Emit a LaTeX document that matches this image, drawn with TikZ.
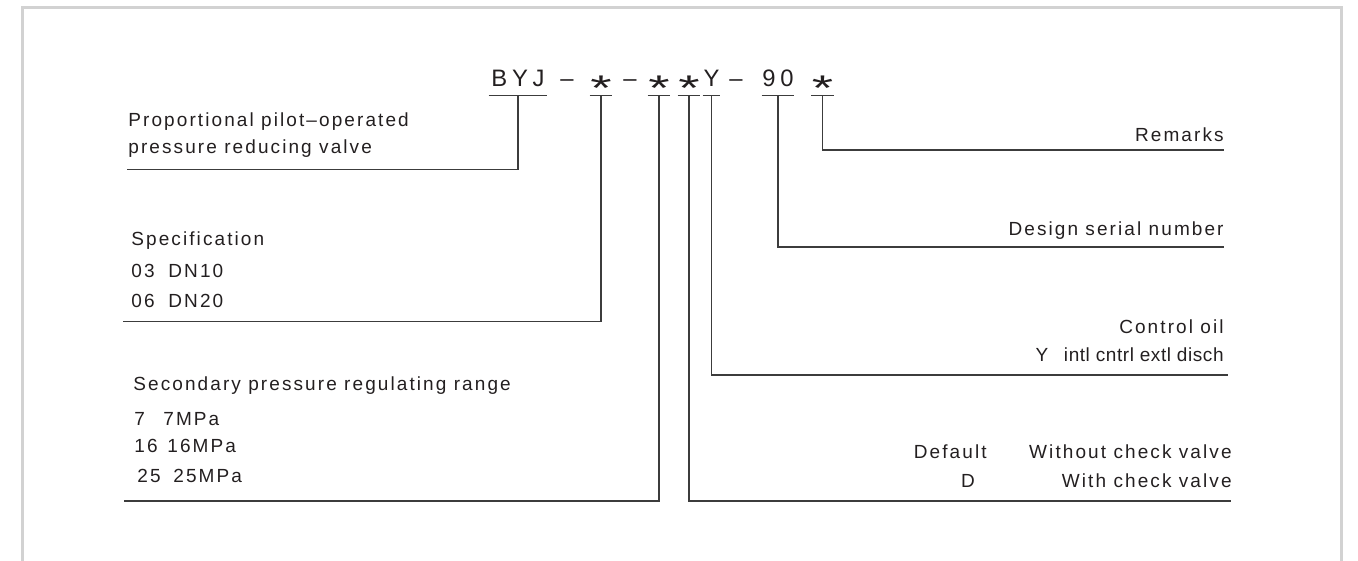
\documentclass[tikz,border=0pt]{standalone}
\usepackage{graphicx}
\usepackage{fontspec}
\setmainfont{Liberation Sans}[LetterSpace=11]
\newfontfamily\codefont{Liberation Sans}[LetterSpace=20]
\newfontfamily\tightfont{Liberation Sans}[LetterSpace=3]
\usepackage{tikz}
\definecolor{ink}{HTML}{231F20}
\definecolor{rule}{HTML}{3C3C3C}
\definecolor{framegray}{HTML}{D2D2D2}
\newcommand\codestar{\raisebox{-6.8pt}{\scalebox{2.3}[1.5]{*}}}

\begin{document}
\begin{tikzpicture}[x=0.5pt, y=-0.5pt,
  code/.style={font=\codefont\fontsize{11.9}{14}\selectfont, text=ink, anchor=base,
    inner xsep=0pt, inner ysep=4pt, text height=8.5pt, text depth=0pt},
  txt/.style={font=\fontsize{9.5}{11}\selectfont, text=ink, inner sep=0pt},
  lead/.style={draw=rule, line width=0.6pt}]
  \useasboundingbox (0,0) rectangle (1358,561);
  \draw[framegray, line width=1.5pt] (22.5,561) -- (22.5,8) -- (1341.5,8) -- (1341.5,561);

  \node[code, minimum width=29pt] (BYJ) at (518,87) {BYJ};
  \node[code] (D1) at (567,87) {–};
  \node[code, minimum width=11pt] (S1) at (601,87) {\codestar};
  \node[code] (D2) at (630,87) {–};
  \node[code, minimum width=11pt] (S2) at (659,87) {\codestar};
  \node[code, minimum width=11pt] (S3) at (689,87) {\codestar};
  \node[code, minimum width=8.5pt] (Y) at (711.5,87) {Y};
  \node[code] (D3) at (736,87) {–};
  \node[code, minimum width=16pt] (N90) at (778,87) {90};
  \node[code, minimum width=10.5pt] (S4) at (822.5,87) {\codestar};
  \foreach \n in {BYJ,S1,S2,S3,Y,N90,S4}
    \draw[lead] (\n.south west) -- (\n.south east);

  \node[txt, anchor=base west] (type1) at (128,127) {Proportional pilot–operated};
  \node[txt, anchor=base west] (type2) at (128,154) {pressure reducing valve};
  \node[txt, anchor=base west] (spec) at (131,245) {Specification};
  \node[txt, anchor=base west] (spec1) at (131,277) {03};
  \node[txt, anchor=base west] (spec1v) at (168,277) {DN10};
  \node[txt, anchor=base west] (spec2) at (131,307) {06};
  \node[txt, anchor=base west] (spec2v) at (168,307) {DN20};
  \node[txt, anchor=base west] (range) at (133,390) {Secondary pressure regulating range};
  \node[txt, anchor=base west] (range1) at (134,425) {7};
  \node[txt, anchor=base west] (range1v) at (163,425) {7MPa};
  \node[txt, anchor=base west] (range2) at (134,452) {16};
  \node[txt, anchor=base west] (range2v) at (167,452) {16MPa};
  \node[txt, anchor=base west] (range3) at (137,482) {25};
  \node[txt, anchor=base west] (range3v) at (173,482) {25MPa};

  \node[txt, anchor=base east] (rem) at (1224,142) {Remarks};
  \node[txt, anchor=base east] (serial) at (1224,235) {Design serial number};
  \node[txt, anchor=base east] (oil) at (1224,333) {Control oil};
  \node[txt, anchor=base] (oil1) at (1042,361) {Y};
  \node[txt, font=\tightfont\fontsize{9.5}{11}\selectfont, anchor=base east] (oil1v) at (1224,361) {intl cntrl extl disch};
  \node[txt, anchor=base east] (chk0) at (987,458) {Default};
  \node[txt, anchor=base east] (chk0v) at (1232,458) {Without check valve};
  \node[txt, anchor=base] (chk1) at (968,487) {D};
  \node[txt, anchor=base east] (chk1v) at (1232,487) {With check valve};

  \coordinate (eType) at (127,169.5);
  \coordinate (eSpec) at (123,321.5);
  \coordinate (eRange) at (124,501);
  \coordinate (eCheck) at (1231,501);
  \coordinate (eOil) at (1228,375);
  \coordinate (eSerial) at (1224,247);
  \coordinate (eRem) at (1224,150);

  \draw[lead] (BYJ.south) |- (eType);
  \draw[lead] (S1.south) |- (eSpec);
  \draw[lead] (S2.south) |- (eRange);
  \draw[lead] (S3.south) |- (eCheck);
  \draw[lead] (Y.south) |- (eOil);
  \draw[lead] (N90.south) |- (eSerial);
  \draw[lead] (S4.south) |- (eRem);
\end{tikzpicture}
\end{document}
